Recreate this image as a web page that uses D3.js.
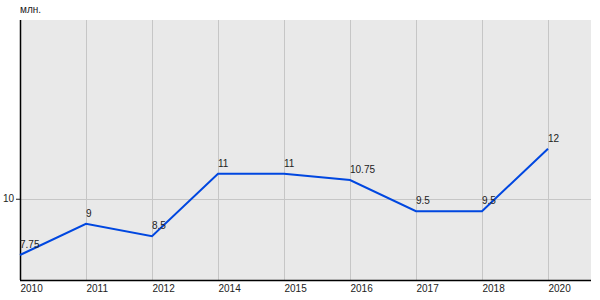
<!DOCTYPE html>
<html>
<head>
<meta charset="utf-8">
<script src="https://cdn.jsdelivr.net/npm/d3@7"></script>
<style>
  body { margin: 0; background: #fff; }
  text { font-family: "Liberation Sans", Arial, sans-serif; font-size: 10px; fill: #222; }
</style>
</head>
<body>
<div id="chart"></div>
<script>
// data
var years = ["2010", "2011", "2012", "2014", "2015", "2016", "2017", "2018", "2020"];
var values = [7.75, 9, 8.5, 11, 11, 10.75, 9.5, 9.5, 12];
var yTicks = [10];
var unitLabel = "млн.";

var margin = {top: 20, right: 9, bottom: 20, left: 20},
  width = 600 - margin.left - margin.right,
  height = 300 - margin.top - margin.bottom;

var svg = d3.select("#chart")
  .append("svg")
    .attr("width", 600)
    .attr("height", 300)
  .append("g")
    .attr("transform", "translate(" + margin.left + "," + margin.top + ")");

var x = d3.scalePoint()
  .domain(years)
  .range([0, 528]);

var y = d3.scaleLinear()
  .domain([6.75, 17.15])
  .range([height, 0]);

// background
svg.append("rect")
  .attr("width", width)
  .attr("height", height)
  .style("fill", "#e9e9e9");

// vertical grid
svg.selectAll(".vgrid")
  .data(years.slice(1))
  .enter()
  .append("line")
    .attr("x1", function(d) { return x(d) + 0.5 })
    .attr("x2", function(d) { return x(d) + 0.5 })
    .attr("y1", 0)
    .attr("y2", height)
    .style("stroke", "#c6c6c6");

// horizontal grid
svg.selectAll(".hgrid")
  .data(yTicks)
  .enter()
  .append("line")
    .attr("x1", 0)
    .attr("x2", width)
    .attr("y1", function(d) { return Math.round(y(d)) + 0.5 })
    .attr("y2", function(d) { return Math.round(y(d)) + 0.5 })
    .style("stroke", "#c6c6c6");

// y axis
var yAxis = svg.append("g")
  .call(d3.axisLeft(y).tickValues(yTicks).tickSize(4).tickPadding(2))
yAxis.select(".domain").remove()
yAxis.selectAll("line").style("stroke", "#222")
yAxis.selectAll("text").style("font-family", "Liberation Sans, Arial, sans-serif").style("font-size", "10px").style("fill", "#222")

svg.append("line")
  .attr("x1", 0.5).attr("x2", 0.5)
  .attr("y1", 0).attr("y2", height)
  .style("stroke", "#000").style("stroke-width", 1.5);

// x axis
var xAxis = svg.append("g")
  .attr("transform", "translate(0," + height + ")")
  .call(d3.axisBottom(x).tickSize(0).tickPadding(5))
xAxis.select(".domain").remove()
xAxis.selectAll("text")
  .attr("text-anchor", "start")
  .style("font-family", "Liberation Sans, Arial, sans-serif").style("font-size", "10px").style("fill", "#222")

svg.append("line")
  .attr("x1", 0).attr("x2", width)
  .attr("y1", height + 0.5).attr("y2", height + 0.5)
  .style("stroke", "#000").style("stroke-width", 1.5);

// line
var points = years.map(function(d, i) { return {year: d, value: values[i]} })

svg.append("path")
  .datum(points)
  .attr("d", d3.line()
    .x(function(d) { return x(d.year) })
    .y(function(d) { return y(d.value) }))
  .style("fill", "none")
  .style("stroke", "#0047e0")
  .style("stroke-width", 2);

// value labels
svg.selectAll(".lbl")
  .data(points)
  .enter()
  .append("text")
    .attr("x", function(d) { return x(d.year) })
    .attr("y", function(d) { return y(d.value) - 7 })
    .text(function(d) { return d.value });

// unit label
svg.append("text")
  .attr("x", 0)
  .attr("y", -7)
  .text(unitLabel);
</script>
</body>
</html>
